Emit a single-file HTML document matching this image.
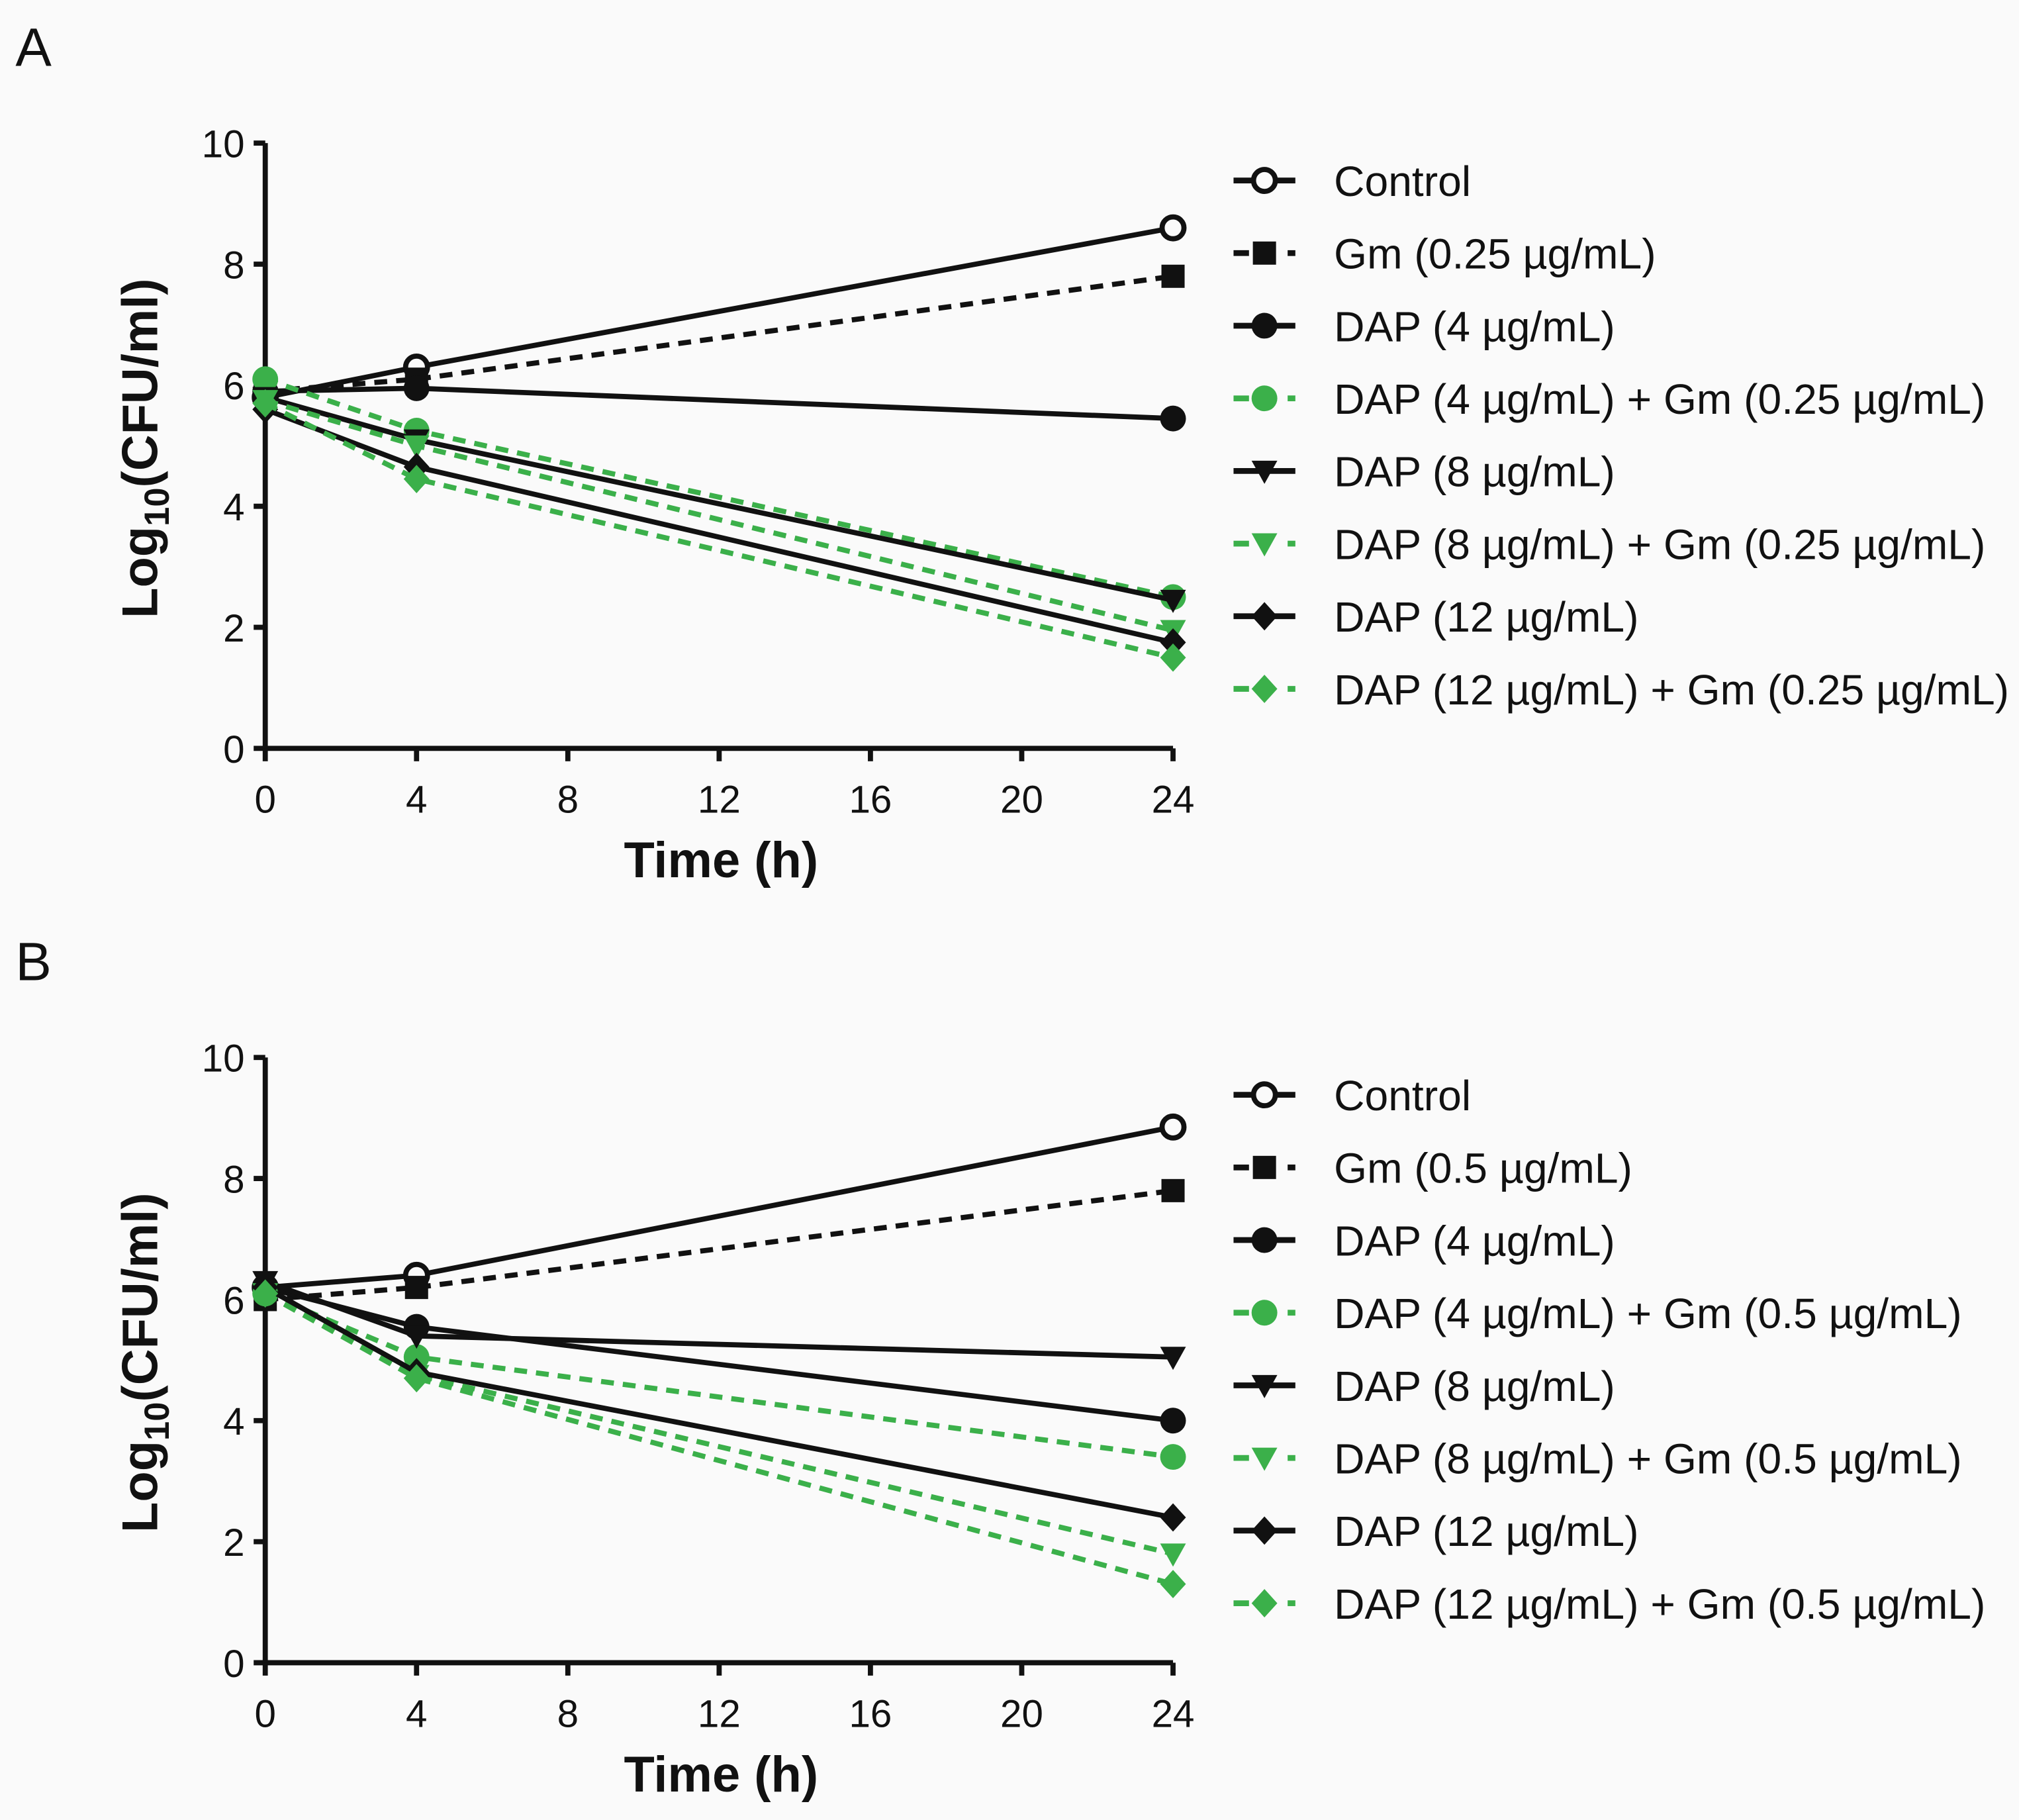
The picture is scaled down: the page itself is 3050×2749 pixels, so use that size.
<!DOCTYPE html>
<html><head><meta charset="utf-8"><style>
html,body{margin:0;padding:0;background:#fafafa}
svg{display:block}
text{font-family:"Liberation Sans",Arial,sans-serif;fill:#111}
</style></head><body>
<svg id="chart" width="3050" height="2749" viewBox="0 0 1568 1413" xmlns="http://www.w3.org/2000/svg">
<rect width="1568" height="1413" fill="#fafafa"/>
</svg>
<script>
const times = [0, 4, 24];
const xTicks = [0, 4, 8, 12, 16, 20, 24];
const yTicks = [0, 2, 4, 6, 8, 10];
const seriesNamesA = ["Control","Gm (0.25 µg/mL)","DAP (4 µg/mL)","DAP (4 µg/mL) + Gm (0.25 µg/mL)","DAP (8 µg/mL)","DAP (8 µg/mL) + Gm (0.25 µg/mL)","DAP (12 µg/mL)","DAP (12 µg/mL) + Gm (0.25 µg/mL)"];
const seriesNamesB = ["Control","Gm (0.5 µg/mL)","DAP (4 µg/mL)","DAP (4 µg/mL) + Gm (0.5 µg/mL)","DAP (8 µg/mL)","DAP (8 µg/mL) + Gm (0.5 µg/mL)","DAP (12 µg/mL)","DAP (12 µg/mL) + Gm (0.5 µg/mL)"];
const controlA = [5.8, 6.3, 8.6];
const gmA = [5.9, 6.1, 7.8];
const dap4A = [5.9, 5.95, 5.45];
const dap4gmA = [6.1, 5.25, 2.5];
const dap8A = [5.8, 5.1, 2.45];
const dap8gmA = [5.75, 5.0, 1.95];
const dap12A = [5.6, 4.65, 1.75];
const dap12gmA = [5.7, 4.45, 1.5];
const controlB = [6.2, 6.4, 8.85];
const gmB = [6.0, 6.2, 7.8];
const dap4B = [6.2, 5.55, 4.0];
const dap4gmB = [6.1, 5.05, 3.4];
const dap8B = [6.3, 5.4, 5.05];
const dap8gmB = [6.1, 4.75, 1.8];
const dap12B = [6.2, 4.8, 2.4];
const dap12gmB = [6.1, 4.7, 1.3];

const NS = "http://www.w3.org/2000/svg";
const svg = document.getElementById("chart");
const GREEN = "#3bb04a";
const styles = [
  {c:"#111", dash:false, m:"ocircle"},
  {c:"#111", dash:true, m:"square"},
  {c:"#111", dash:false, m:"circle"},
  {c:GREEN, dash:true, m:"circle"},
  {c:"#111", dash:false, m:"tri"},
  {c:GREEN, dash:true, m:"tri"},
  {c:"#111", dash:false, m:"diamond"},
  {c:GREEN, dash:true, m:"diamond"}
];
function mk(tag, attrs, parent){
  const e = document.createElementNS(NS, tag);
  for (const k in attrs) e.setAttribute(k, attrs[k]);
  (parent||svg).appendChild(e);
  return e;
}
function marker(g, type, x, y, c){
  let e;
  if (type==="ocircle") e = mk("circle",{cx:x,cy:y,r:8.5,fill:"#fafafa",stroke:c,"stroke-width":4},g);
  else if (type==="circle") e = mk("circle",{cx:x,cy:y,r:10,fill:c},g);
  else if (type==="square") e = mk("rect",{x:x-9,y:y-9,width:18,height:18,fill:c},g);
  else if (type==="tri") e = mk("polygon",{points:`${x-10},${y-8} ${x+10},${y-8} ${x},${y+10}`,fill:c},g);
  else e = mk("polygon",{points:`${x},${y-11} ${x+10},${y} ${x},${y+11} ${x-10},${y}`,fill:c},g);
  
  
}
function panel(label, top, names, data){
  const x0=206, x1=911, yb=top+470, yt=top;
  const X = t => x0 + (x1-x0)*t/24;
  const Y = v => yb - (yb-yt)*v/10;
  const g = mk("g",{});
  
  
  const pl = mk("text",{x:12,y:top-60,"font-size":42},g); pl.textContent=label;
  
  
  const ax = mk("path",{d:`M${x0},${yt} V${yb} H${x1}`,stroke:"#111","stroke-width":4,fill:"none"},g);
  
  
  yTicks.forEach(v=>{
    mk("line",{x1:x0-9,x2:x0,y1:Y(v),y2:Y(v),stroke:"#111","stroke-width":4},g);
    const t = mk("text",{x:x0-16,y:Y(v)+11,"font-size":30,"text-anchor":"end"},g); t.textContent=v;
    
    
  });
  xTicks.forEach(v=>{
    mk("line",{x1:X(v),x2:X(v),y1:yb,y2:yb+10,stroke:"#111","stroke-width":4},g);
    const t = mk("text",{x:X(v),y:yb+50,"font-size":30,"text-anchor":"middle"},g); t.textContent=v;
    
    
  });
  const xt = mk("text",{x:560,y:yb+100,"font-size":39,"font-weight":"bold","text-anchor":"middle"},g); xt.textContent="Time (h)";
  
  
  const yt2 = mk("text",{transform:`translate(122,${top+237}) rotate(-90)`,"font-size":39,"font-weight":"bold","text-anchor":"middle"},g);
  yt2.innerHTML = 'Log<tspan font-size="27" dy="9">10</tspan><tspan dy="-9">(CFU/ml)</tspan>';
  
  
  data.forEach((vals,i)=>{
    const s = styles[i];
    const sg = mk("g",{},g);
    
    
    const d = vals.map((v,j)=>(j?"L":"M")+X(times[j])+","+Y(v)).join(" ");
    const p = mk("path",{d:d,stroke:s.c,"stroke-width":4,fill:"none","stroke-dasharray":s.dash?"10,7":"none"},sg);
    
    
    vals.forEach((v,j)=>marker(sg,s.m,X(times[j]),Y(v),s.c));
    const ly = top+29+i*56.4;
    const lg = mk("g",{},g);
    
    
    if (s.dash){
      mk("line",{x1:958,x2:970,y1:ly,y2:ly,stroke:s.c,"stroke-width":4.5},lg);
      mk("line",{x1:1000,x2:1006,y1:ly,y2:ly,stroke:s.c,"stroke-width":4.5},lg);
    } else mk("line",{x1:958,x2:1006,y1:ly,y2:ly,stroke:s.c,"stroke-width":4.5},lg);
    marker(lg,s.m,982,ly,s.c);
    const lt = mk("text",{x:1036,y:ly+12,"font-size":33},lg); lt.textContent=names[i];
    
    
  });
}
panel("A", 111, seriesNamesA, [controlA,gmA,dap4A,dap4gmA,dap8A,dap8gmA,dap12A,dap12gmA]);
panel("B", 821, seriesNamesB, [controlB,gmB,dap4B,dap4gmB,dap8B,dap8gmB,dap12B,dap12gmB]);
</script>
</body></html>
